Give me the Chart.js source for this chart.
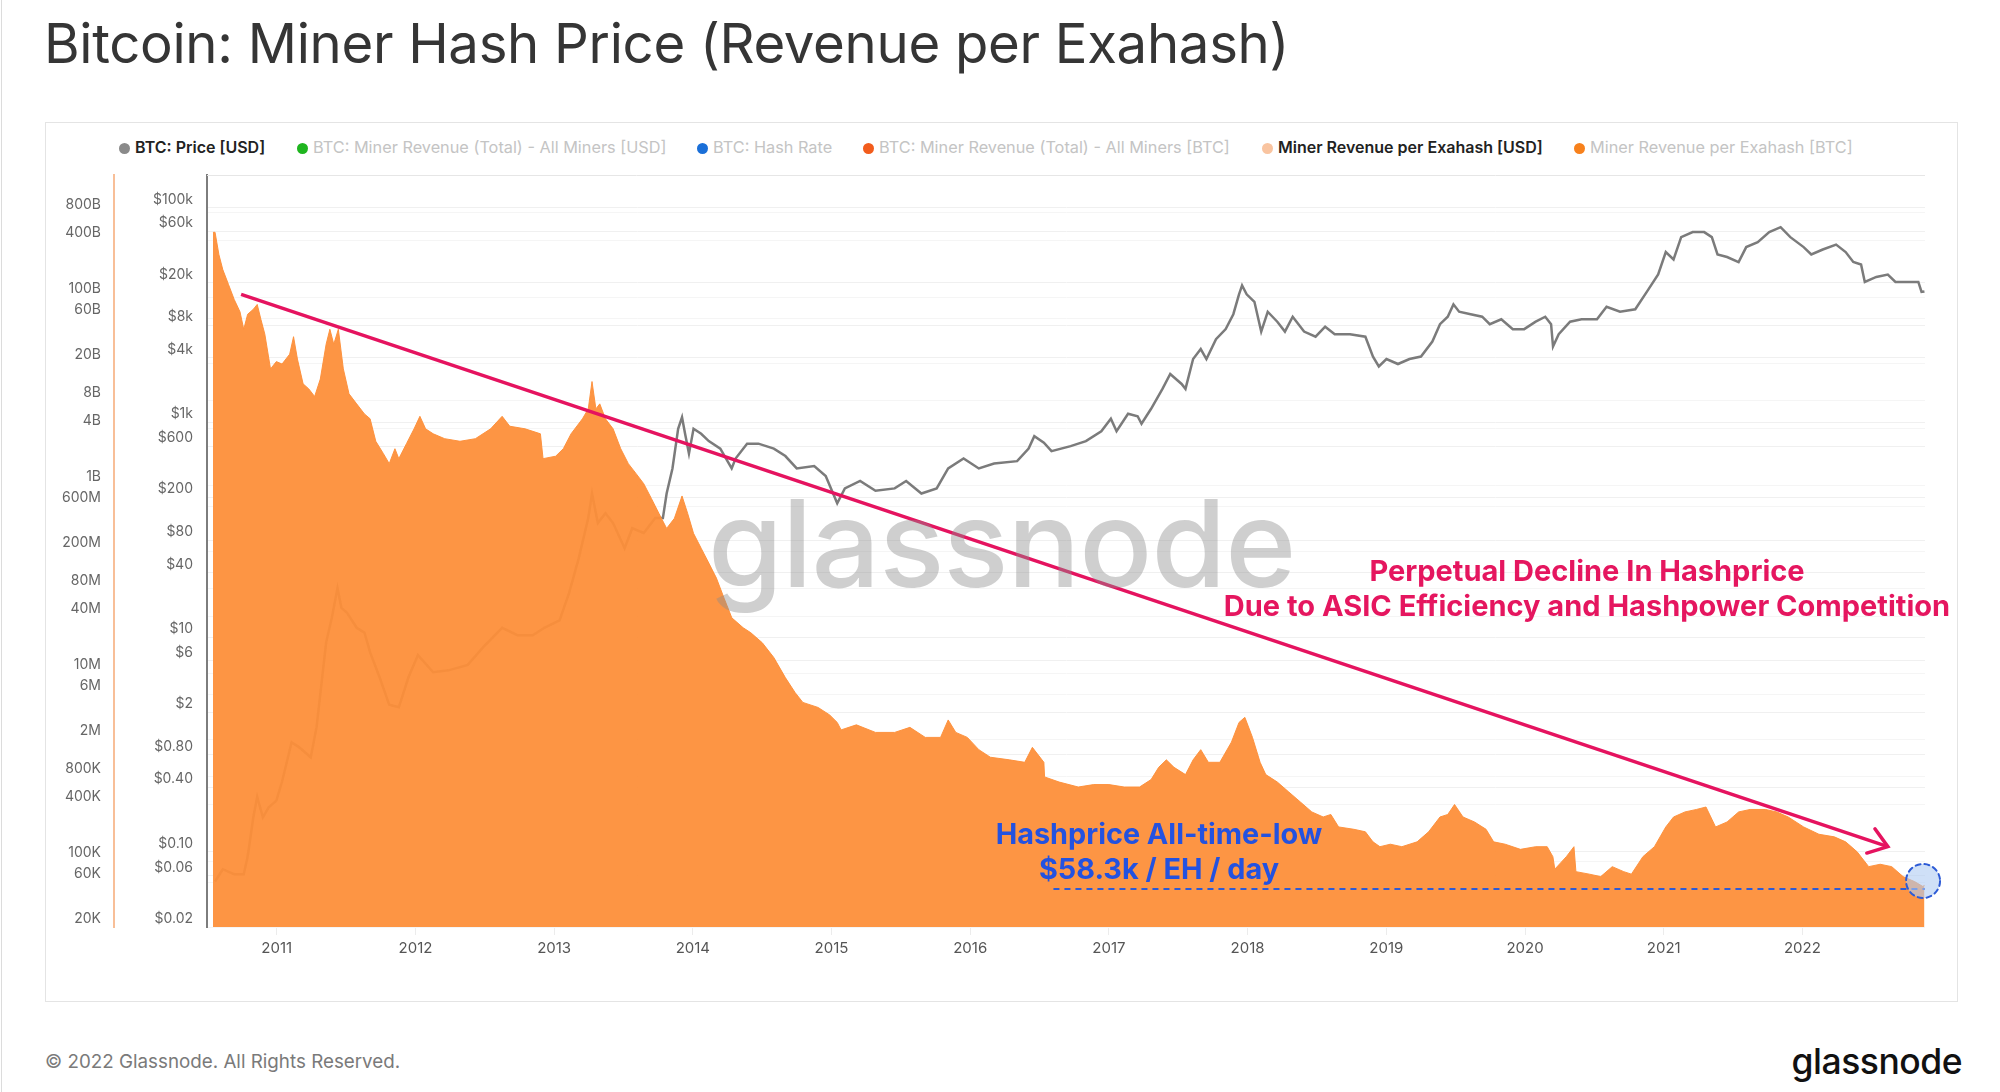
<!DOCTYPE html>
<html>
<head>
<meta charset="utf-8">
<script src="https://cdn.jsdelivr.net/npm/chart.js@4.4.1/dist/chart.umd.min.js"></script>
<style>
  body { margin: 0; width: 2000px; height: 1092px; background: #fff; position: relative; overflow: hidden; font-family: Inter, "Noto Sans", sans-serif; }
  .abs { position: absolute; white-space: nowrap; }
  #edge { left: 1px; top: 0; width: 1px; height: 1092px; background: #dcdcdc; }
  #title { left: 44px; top: 10px; font-size: 54.5px; color: #353535; letter-spacing: -0.3px; }
  #panel { left: 45px; top: 122px; width: 1911px; height: 878px; border: 1px solid #e4e4e4; }
  .lg { top: 137px; font-size: 16.3px; line-height: 20px; color: #c4c4c4; }
  .lg.on { color: #222; font-weight: 600; font-size: 16px; }
  .lg i { display: inline-block; width: 11px; height: 11px; border-radius: 50%; margin-right: 5px; vertical-align: -1px; }
  #chart { position: absolute; left: 46px; top: 123px; }
  #mark { left: 708px; top: 470px; font-size: 121px; font-weight: 500; color: rgba(140,140,140,0.42); letter-spacing: -1px; pointer-events: none; }
  .pink { color: #e5165f; font-weight: 700; font-size: 29px; transform: translateX(-50%); }
  .blue { color: #2352e0; font-weight: 700; font-size: 28.8px; transform: translateX(-50%); }
  #foot { left: 45px; top: 1050px; font-size: 18.8px; color: #7a7a7a; }
  #logo { right: 38px; top: 1040px; font-size: 35.5px; font-weight: 500; color: #111; letter-spacing: -0.5px; }
</style>
</head>
<body>
<div id="edge" class="abs"></div>
<div id="title" class="abs">Bitcoin: Miner Hash Price (Revenue per Exahash)</div>
<div id="panel" class="abs"></div>

<div class="abs lg on" style="left:119px"><i style="background:#8a8a8a"></i>BTC: Price [USD]</div>
<div class="abs lg" style="left:297px"><i style="background:#1fb51f"></i>BTC: Miner Revenue (Total) - All Miners [USD]</div>
<div class="abs lg" style="left:697px"><i style="background:#1a6fd8"></i>BTC: Hash Rate</div>
<div class="abs lg" style="left:863px"><i style="background:#f25c1c"></i>BTC: Miner Revenue (Total) - All Miners [BTC]</div>
<div class="abs lg on" style="left:1262px"><i style="background:#f9c4a0"></i>Miner Revenue per Exahash [USD]</div>
<div class="abs lg" style="left:1574px"><i style="background:#f7811c"></i>Miner Revenue per Exahash [BTC]</div>

<canvas id="chart" width="1911" height="876"></canvas>

<div id="mark" class="abs">glassnode</div>
<div class="abs pink" style="left:1587px; top:553px">Perpetual Decline In Hashprice</div>
<div class="abs pink" style="left:1587px; top:588px">Due to ASIC Efficiency and Hashpower Competition</div>
<div class="abs blue" style="left:1159px; top:816px">Hashprice All-time-low</div>
<div class="abs blue" style="left:1159px; top:851px">$58.3k / EH / day</div>

<div id="foot" class="abs">© 2022 Glassnode. All Rights Reserved.</div>
<div id="logo" class="abs">glassnode</div>

<script>
// BTC price (USD), x in decimal years
const priceYears = [
  2010.555, 2010.611, 2010.693, 2010.762, 2010.790, 2010.831, 2010.859, 2010.900, 2010.942, 2010.997,
  2011.038, 2011.107, 2011.162, 2011.245, 2011.287, 2011.356, 2011.397, 2011.438, 2011.466, 2011.507,
  2011.576, 2011.632, 2011.673, 2011.742, 2011.811, 2011.880, 2011.949, 2012.018, 2012.128, 2012.239,
  2012.377, 2012.487, 2012.625, 2012.735, 2012.846, 2012.929, 2013.039, 2013.108, 2013.177, 2013.246,
  2013.273, 2013.315, 2013.370, 2013.425, 2013.508, 2013.563, 2013.646, 2013.729, 2013.784, 2013.811,
  2013.853, 2013.894, 2013.922, 2013.944, 2013.972, 2014.005, 2014.060, 2014.115, 2014.198, 2014.280,
  2014.308, 2014.391, 2014.473, 2014.584, 2014.667, 2014.749, 2014.875, 2014.958, 2015.041, 2015.096,
  2015.206, 2015.317, 2015.455, 2015.538, 2015.648, 2015.758, 2015.841, 2015.952, 2016.062, 2016.172,
  2016.338, 2016.421, 2016.462, 2016.531, 2016.586, 2016.724, 2016.834, 2016.945, 2017.014, 2017.055,
  2017.138, 2017.207, 2017.235, 2017.304, 2017.386, 2017.442, 2017.524, 2017.552, 2017.607, 2017.662,
  2017.703, 2017.772, 2017.842, 2017.897, 2017.938, 2017.960, 2017.993, 2018.049, 2018.098, 2018.145,
  2018.214, 2018.269, 2018.325, 2018.407, 2018.490, 2018.559, 2018.628, 2018.738, 2018.849, 2018.904,
  2018.946, 2019.001, 2019.084, 2019.167, 2019.250, 2019.332, 2019.387, 2019.443, 2019.484, 2019.525,
  2019.608, 2019.691, 2019.746, 2019.829, 2019.912, 2019.994, 2020.077, 2020.146, 2020.188, 2020.202,
  2020.243, 2020.325, 2020.408, 2020.519, 2020.588, 2020.685, 2020.795, 2020.878, 2020.960, 2021.015,
  2021.071, 2021.126, 2021.209, 2021.292, 2021.347, 2021.388, 2021.457, 2021.540, 2021.595, 2021.678,
  2021.761, 2021.843, 2021.913, 2022.009, 2022.064, 2022.147, 2022.243, 2022.312, 2022.367, 2022.423,
  2022.450, 2022.533, 2022.616, 2022.671, 2022.781, 2022.836, 2022.859, 2022.880
];
const priceValues = [
  0.053, 0.069, 0.062, 0.062, 0.090, 0.21, 0.325, 0.21, 0.26, 0.30,
  0.45, 1.05, 0.94, 0.76, 1.45, 8.9, 15.1, 28.6, 18.7, 16.8,
  12.2, 11.0, 7.2, 4.2, 2.34, 2.22, 4.2, 6.8, 4.7, 4.9,
  5.5, 8.0, 12.2, 10.4, 10.4, 12.2, 14.3, 25.8, 54, 128,
  217, 115, 142, 115, 67, 103, 93, 128, 128, 217,
  371, 869, 1112, 781, 510, 869, 781, 667, 568, 371,
  459, 631, 631, 568, 484, 371, 391, 316, 176, 242,
  284, 230, 242, 284, 217, 242, 371, 459, 371, 412,
  434, 568, 741, 645, 538, 599, 667, 824, 1077, 824,
  1197, 1135, 968, 1333, 2042, 2812, 2270, 2042, 3873, 4794,
  3873, 5933, 7350, 10120, 15500, 18760, 15500, 13200, 6970, 10670,
  8620, 6970, 9590, 6970, 6250, 7745, 6600, 6600, 6250, 4080,
  3300, 3873, 3480, 3873, 4080, 5630, 8170, 9590, 12500, 10670,
  10120, 9590, 8170, 9080, 7350, 7350, 8620, 9590, 8170, 5060,
  6600, 8620, 9080, 9080, 11860, 10670, 11250, 16330, 23700, 38350,
  32700, 52800, 58800, 58800, 52800, 36400, 34450, 30970, 42660, 47440,
  58800, 65300, 52800, 42660, 36400, 40500, 45000, 38350, 30970, 29380,
  20230, 22490, 23700, 20230, 20230, 20230, 16330, 16500
];

// Miner revenue per exahash per day (USD)
const hashYears = [
  2010.540, 2010.555, 2010.583, 2010.611, 2010.652, 2010.693, 2010.735, 2010.762, 2010.790, 2010.831,
  2010.859, 2010.886, 2010.914, 2010.955, 2010.997, 2011.038, 2011.093, 2011.121, 2011.149, 2011.190,
  2011.231, 2011.273, 2011.314, 2011.356, 2011.383, 2011.411, 2011.444, 2011.480, 2011.521, 2011.576,
  2011.632, 2011.673, 2011.714, 2011.769, 2011.811, 2011.852, 2011.880, 2011.935, 2011.990, 2012.032,
  2012.073, 2012.128, 2012.211, 2012.321, 2012.432, 2012.542, 2012.625, 2012.680, 2012.790, 2012.901,
  2012.920, 2013.011, 2013.066, 2013.122, 2013.204, 2013.246, 2013.273, 2013.301, 2013.329, 2013.370,
  2013.425, 2013.480, 2013.535, 2013.591, 2013.646, 2013.701, 2013.756, 2013.811, 2013.867, 2013.922,
  2013.963, 2014.005, 2014.060, 2014.115, 2014.170, 2014.225, 2014.281, 2014.363, 2014.418, 2014.501,
  2014.584, 2014.667, 2014.737, 2014.793, 2014.903, 2014.986, 2015.041, 2015.069, 2015.179, 2015.317,
  2015.455, 2015.565, 2015.676, 2015.786, 2015.841, 2015.896, 2015.979, 2016.062, 2016.145, 2016.283,
  2016.393, 2016.448, 2016.531, 2016.536, 2016.641, 2016.779, 2016.890, 2017.000, 2017.110, 2017.221,
  2017.304, 2017.359, 2017.414, 2017.469, 2017.552, 2017.607, 2017.662, 2017.717, 2017.800, 2017.883,
  2017.938, 2017.980, 2018.035, 2018.090, 2018.131, 2018.214, 2018.297, 2018.380, 2018.463, 2018.545,
  2018.600, 2018.656, 2018.766, 2018.849, 2018.904, 2018.954, 2019.029, 2019.112, 2019.222, 2019.305,
  2019.387, 2019.443, 2019.492, 2019.553, 2019.636, 2019.719, 2019.774, 2019.857, 2019.967, 2020.077,
  2020.160, 2020.201, 2020.215, 2020.298, 2020.353, 2020.367, 2020.464, 2020.546, 2020.629, 2020.712,
  2020.767, 2020.850, 2020.933, 2021.015, 2021.071, 2021.153, 2021.236, 2021.305, 2021.374, 2021.457,
  2021.540, 2021.623, 2021.733, 2021.816, 2021.898, 2022.009, 2022.119, 2022.230, 2022.312, 2022.395,
  2022.478, 2022.561, 2022.644, 2022.726, 2022.809, 2022.870, 2022.880
];
const hashValues = [
  4.9e11, 4.92e11, 2.84e11, 1.97e11, 1.37e11, 9.5e10, 7.0e10, 4.57e10, 6.6e10, 7.45e10,
  8.4e10, 5.8e10, 4.05e10, 1.73e10, 2.07e10, 1.95e10, 2.48e10, 3.81e10, 2.2e10, 1.2e10,
  1.06e10, 8.8e9, 1.35e10, 3.17e10, 4.57e10, 3.17e10, 4.57e10, 1.73e10, 9.4e9, 7.35e9,
  5.75e9, 5.1e9, 2.94e9, 2.17e9, 1.7e9, 2.45e9, 1.92e9, 2.77e9, 3.99e9, 5.42e9,
  3.99e9, 3.53e9, 3.13e9, 2.94e9, 3.13e9, 3.99e9, 5.42e9, 4.25e9, 3.99e9, 3.53e9,
  1.92e9, 2.04e9, 2.45e9, 3.53e9, 5.1e9, 6.5e9, 1.27e10, 6.5e9, 7.35e9, 5.1e9,
  3.99e9, 2.45e9, 1.7e9, 1.33e9, 1.04e9, 7.25e8, 5.0e8, 3.48e8, 4.45e8, 7.7e8,
  5.0e8, 3.08e8, 2.14e8, 1.49e8, 1.03e8, 6.3e7, 3.89e7, 3.05e7, 2.7e7, 2.11e7,
  1.47e7, 9.0e6, 6.25e6, 4.9e6, 4.33e6, 3.61e6, 3.0e6, 2.5e6, 2.83e6, 2.35e6,
  2.35e6, 2.66e6, 2.08e6, 2.08e6, 3.19e6, 2.35e6, 2.08e6, 1.54e6, 1.28e6, 1.2e6,
  1.13e6, 1.63e6, 1.13e6, 7.9e5, 6.97e5, 6.17e5, 6.55e5, 6.55e5, 6.17e5, 6.17e5,
  7.4e5, 1.0e6, 1.2e6, 1.0e6, 8.36e5, 1.2e6, 1.54e6, 1.13e6, 1.13e6, 1.85e6,
  3.0e6, 3.4e6, 2.08e6, 1.13e6, 8.36e5, 6.97e5, 5.46e5, 4.28e5, 3.35e5, 2.96e5,
  3.15e5, 2.32e5, 2.19e5, 2.06e5, 1.61e5, 1.43e5, 1.52e5, 1.43e5, 1.61e5, 2.06e5,
  2.96e5, 3.15e5, 4.02e5, 2.96e5, 2.62e5, 2.19e5, 1.61e5, 1.52e5, 1.34e5, 1.43e5,
  1.43e5, 1.12e5, 8.25e4, 1.12e5, 1.43e5, 7.76e4, 7.3e4, 6.87e4, 8.77e4, 7.76e4,
  7.3e4, 1.12e5, 1.43e5, 2.32e5, 2.96e5, 3.35e5, 3.56e5, 3.78e5, 2.32e5, 2.62e5,
  3.35e5, 3.56e5, 3.56e5, 3.35e5, 2.96e5, 2.32e5, 1.94e5, 1.82e5, 1.61e5, 1.26e5,
  8.77e4, 9.3e4, 8.77e4, 6.87e4, 6.08e4, 5.38e4, 5.6e4
];

// annotations
const trendYears = [2010.743, 2022.616];
const trendValues = [15500, 0.112];          // on the price axis
const atlYears = [2016.60, 2022.884];
const atlValue = 50700;                      // on the hashprice axis
const atlMarkYear = 2022.87;
const atlMarkValue = 61700;

// axis ticks
const xTickYears = [2011, 2012, 2013, 2014, 2015, 2016, 2017, 2018, 2019, 2020, 2021, 2022];
const priceTicks = [100000, 60000, 20000, 8000, 4000, 1000, 600, 200, 80, 40, 10, 6, 2, 0.8, 0.4, 0.1, 0.06, 0.02];
const hashTicks = [8e11, 4e11, 1e11, 6e10, 2e10, 8e9, 4e9, 1e9, 6e8, 2e8, 8e7, 4e7, 1e7, 6e6, 2e6, 8e5, 4e5, 1e5, 6e4, 2e4];

function toPoints(xs, ys) {
    return xs.map((x, i) => ({ x: x, y: Array.isArray(ys) ? ys[i] : ys }));
}

function fmtPrice(v) {
    if (v >= 1000) return '$' + (v / 1000) + 'k';
    if (v >= 1) return '$' + v;
    return '$' + v.toFixed(2);
}

function fmtHash(v) {
    if (v >= 1e9) return (v / 1e9) + 'B';
    if (v >= 1e6) return (v / 1e6) + 'M';
    return (v / 1e3) + 'K';
}

// arrow head, low marker and plot top line
const annotPlugin = {
    id: 'annot',
    afterDatasetsDraw(chart) {
        const ctx = chart.ctx;
        const x = chart.scales.x, yp = chart.scales.yPrice, yh = chart.scales.yHash;
        const area = chart.chartArea;

        ctx.save();
        ctx.strokeStyle = '#e6e6e6';
        ctx.lineWidth = 1;
        ctx.beginPath();
        ctx.moveTo(area.left, area.top + 0.5);
        ctx.lineTo(area.right, area.top + 0.5);
        ctx.stroke();

        // arrow head on the trend line
        const x0 = x.getPixelForValue(trendYears[0]), y0 = yp.getPixelForValue(trendValues[0]);
        const x1 = x.getPixelForValue(trendYears[1]), y1 = yp.getPixelForValue(trendValues[1]);
        const ang = Math.atan2(y1 - y0, x1 - x0);
        const len = 22, spread = 0.62;
        ctx.strokeStyle = '#e5135f';
        ctx.lineWidth = 3.5;
        ctx.lineCap = 'round';
        ctx.beginPath();
        ctx.moveTo(x1 - len * Math.cos(ang - spread), y1 - len * Math.sin(ang - spread));
        ctx.lineTo(x1, y1);
        ctx.lineTo(x1 - len * Math.cos(ang + spread), y1 - len * Math.sin(ang + spread));
        ctx.stroke();

        // dashed circle at the all-time low
        const cx = x.getPixelForValue(atlMarkYear), cy = yh.getPixelForValue(atlMarkValue);
        ctx.beginPath();
        ctx.arc(cx, cy, 17, 0, Math.PI * 2);
        ctx.fillStyle = 'rgba(175, 203, 242, 0.6)';
        ctx.fill();
        ctx.setLineDash([5, 4]);
        ctx.lineWidth = 2;
        ctx.strokeStyle = '#2d5bd6';
        ctx.stroke();
        ctx.restore();
    }
};

const ctx = document.getElementById('chart').getContext('2d');
new Chart(ctx, {
    type: 'line',
    data: {
        datasets: [
            {
                label: 'BTC: Price [USD]',
                data: toPoints(priceYears, priceValues),
                yAxisID: 'yPrice',
                borderColor: '#7b7b7b',
                borderWidth: 2.5,
                pointRadius: 0,
                order: 3
            },
            {
                label: 'Miner Revenue per Exahash [USD]',
                data: toPoints(hashYears, hashValues),
                yAxisID: 'yHash',
                borderColor: 'rgba(253, 143, 58, 0.95)',
                backgroundColor: 'rgba(253, 143, 58, 0.95)',
                borderWidth: 1,
                fill: 'start',
                pointRadius: 0,
                order: 2
            },
            {
                label: 'trend',
                data: toPoints(trendYears, trendValues),
                yAxisID: 'yPrice',
                borderColor: '#e5135f',
                borderWidth: 3.5,
                pointRadius: 0,
                order: 1
            },
            {
                label: 'atl',
                data: toPoints(atlYears, atlValue),
                yAxisID: 'yHash',
                borderColor: '#2d5bd6',
                borderWidth: 2,
                borderDash: [6, 5],
                pointRadius: 0,
                order: 0
            }
        ]
    },
    options: {
        responsive: false,
        animation: false,
        devicePixelRatio: 1,
        layout: { padding: { top: 52, right: 32, left: 0, bottom: 0 } },
        plugins: { legend: { display: false }, tooltip: { enabled: false } },
        scales: {
            x: {
                type: 'linear',
                min: 2010.497,
                max: 2022.884,
                afterBuildTicks: s => { s.ticks = xTickYears.map(v => ({ value: v })); },
                afterFit: s => { s.height = 72; },
                ticks: {
                    callback: v => String(v),
                    color: '#555',
                    font: { family: 'Inter', size: 15 },
                    padding: 4,
                    autoSkip: false,
                    maxRotation: 0
                },
                grid: { drawOnChartArea: false, tickLength: 8, color: '#ececec' },
                border: { display: false }
            },
            yPrice: {
                type: 'logarithmic',
                position: 'left',
                weight: 0,
                min: 0.02,
                max: 200000,
                afterBuildTicks: s => { s.ticks = priceTicks.map(v => ({ value: v })); },
                afterFit: s => { s.width = 93; },
                ticks: {
                    callback: v => fmtPrice(v),
                    color: '#666',
                    font: { family: 'Inter', size: 14 },
                    padding: 14,
                    labelOffset: -8,
                    autoSkip: false
                },
                grid: { color: '#f0f0f0', drawTicks: false },
                border: { color: '#7d7d7d', width: 2 }
            },
            yHash: {
                type: 'logarithmic',
                position: 'left',
                weight: 1,
                min: 2e4,
                max: 2e12,
                afterBuildTicks: s => { s.ticks = hashTicks.map(v => ({ value: v })); },
                afterFit: s => { s.width = 68; },
                ticks: {
                    callback: v => fmtHash(v),
                    color: '#666',
                    font: { family: 'Inter', size: 14 },
                    padding: 13,
                    labelOffset: -8,
                    autoSkip: false
                },
                grid: { color: '#f5f5f5', drawTicks: false },
                border: { color: '#f8bf98', width: 2 }
            }
        }
    },
    plugins: [annotPlugin]
});
</script>
</body>
</html>
